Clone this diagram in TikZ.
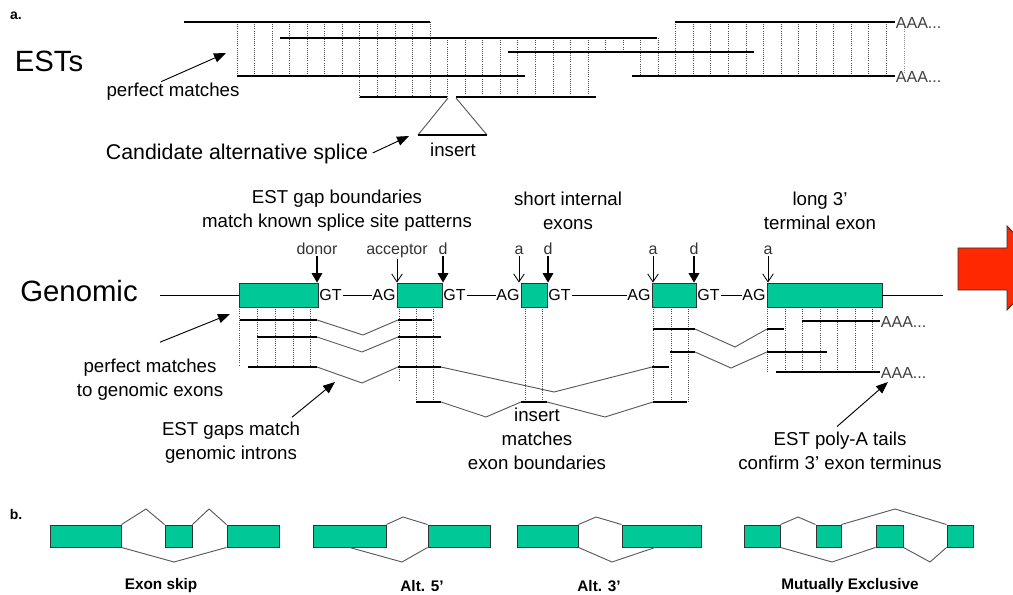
\documentclass[tikz,border=0pt]{standalone}
\usepackage{fontspec}
\setmainfont{Liberation Sans}
\usetikzlibrary{arrows.meta,fit,calc}
\definecolor{exonc}{RGB}{0,200,150}
\definecolor{redarr}{RGB}{255,40,0}
\begin{document}
\begin{tikzpicture}[x=0.75pt,y=-0.75pt,
  est/.style={line width=2pt},
  vdot/.style={densely dotted,line width=0.6pt,black!70},
  intron/.style={line width=0.7pt,black!65},
  callout/.style={line width=0.7pt,-{Triangle[length=9pt,width=7pt]}},
  dnfill/.style={line width=0.8pt,-{Triangle[length=7pt,width=8pt]}},
  dnopen/.style={line width=0.6pt,-{Straight Barb[length=6pt,width=8pt]}},
  exon/.style={draw=black!80,fill=exonc,line width=0.7pt,inner sep=0pt},
  big/.style={font=\fontsize{22}{26}\selectfont,inner sep=0pt},
  cand/.style={font=\fontsize{16}{19}\selectfont,inner sep=1pt},
  txt/.style={font=\fontsize{14}{18}\selectfont,inner sep=1pt,align=center},
  sm/.style={font=\fontsize{12}{14}\selectfont,inner sep=0.5pt},
  lab/.style={font=\bfseries\fontsize{11.5}{14}\selectfont},
  tag/.style={font=\bfseries\fontsize{10.5}{12}\selectfont},
  splice/.style={line width=0.7pt,black!65},
]
\useasboundingbox (0,0) rectangle (1013,595);

% ================= panel a: ESTs =================
\node[tag] (ta) at (16,16) {a.};
\node[big] (ests) at (49,61) {ESTs};

% dotted alignment verticals
\foreach \k in {0,...,6}   {\draw[vdot] ({237+17.55*\k},22) -- ({237+17.55*\k},76);}
\foreach \k in {7,...,11}  {\draw[vdot] ({237+17.55*\k},22) -- ({237+17.55*\k},97);}
\foreach \k in {12,...,20} {\draw[vdot] ({237+17.55*\k},38) -- ({237+17.55*\k},97);}
\foreach \k in {21,22}     {\draw[vdot] ({237+17.55*\k},38) -- ({237+17.55*\k},52);}
\foreach \k in {23,24}     {\draw[vdot] ({237+17.55*\k},38) -- ({237+17.55*\k},76);}
\foreach \k in {25,...,37} {\draw[vdot] ({237+17.55*\k},22) -- ({237+17.55*\k},76);}
\draw[vdot,black!45] (904,25) -- (904,73);

% EST reads
\draw[est] (184,22) -- (430,22);
\draw[est] (280,38) -- (657,38);
\draw[est] (237,76) -- (525,76);
\draw[est] (360,97) -- (447,97);
\draw[est] (456,97) -- (596,97);
\draw[est] (508,52) -- (754,52);
\draw[est] (675,22) -- (895,22);
\draw[est] (632,76) -- (895,76);
\node[sm,anchor=west,black!75] (aaa1) at (895,23) {AAA...};
\node[sm,anchor=west,black!75] (aaa2) at (895,77) {AAA...};

% insert triangle
\draw[intron] (448,98) -- (418,135);
\draw[intron] (456,98) -- (487,135);
\draw[est] (418,135) -- (487,135);
\node[txt] (ins1) at (453,150) {insert};

\node[txt] (pm1) at (173,92) {perfect matches};
\coordinate (pm1tip) at (226,53);
\draw[callout] ($(pm1.north)+(-12,0)$) -- (pm1tip);

\node[cand] (cand) at (237,154) {Candidate alternative splice};
\coordinate (candtip) at (409,136);
\draw[callout] ($(cand.east)+(3,-1)$) -- (candtip);

% ================= genomic =================
\node[big] (gen) at (79,291) {Genomic};
\node[txt] (h1) at (337,210.5) {EST gap boundaries\\match known splice site patterns};
\node[txt] (h2) at (568,210.5) {short internal\\exons};
\node[txt] (h3) at (820,210.5) {long 3’\\terminal exon};

% dotted verticals below exons
\foreach \x in {257,275,293,310} {\draw[vdot] (\x,307) -- (\x,367);}
\draw[vdot] (239,307) -- (239,366);
\draw[vdot] (399,307) -- (399,380);
\foreach \x in {416,433,525,542,653,671,688} {\draw[vdot] (\x,307) -- (\x,402);}
\foreach \x in {767,785,802,820,837,855,872} {\draw[vdot] (\x,307) -- (\x,372);}

\node[exon,fit={(239,283) (318,307)}] (e1) {};
\node[exon,fit={(397,283) (442,307)}] (e2) {};
\node[exon,fit={(521,283) (547,307)}] (e3) {};
\node[exon,fit={(652,283) (696,307)}] (e4) {};
\node[exon,fit={(767,283) (882,307)}] (e5) {};

\coordinate (gl) at (160,295);
\coordinate (gr) at (943,295);
\draw[line width=0.6pt] (gl) -- (e1.west);
\draw[line width=0.6pt] (e5.east) -- (gr);

\node[sm,anchor=west] (gt1) at (e1.east) {GT};
\node[sm,anchor=east] (ag1) at (e2.west) {AG};
\node[sm,anchor=west] (gt2) at (e2.east) {GT};
\node[sm,anchor=east] (ag2) at (e3.west) {AG};
\node[sm,anchor=west] (gt3) at (e3.east) {GT};
\node[sm,anchor=east] (ag3) at (e4.west) {AG};
\node[sm,anchor=west] (gt4) at (e4.east) {GT};
\node[sm,anchor=east] (ag4) at (e5.west) {AG};
\draw[line width=0.6pt] (gt1.east) -- (ag1.west);
\draw[line width=0.6pt] (gt2.east) -- (ag2.west);
\draw[line width=0.6pt] (gt3.east) -- (ag3.west);
\draw[line width=0.6pt] (gt4.east) -- (ag4.west);

% splice-site labels and arrows
\node[sm,anchor=base,black!80] (ld1) at (317,255) {donor};
\node[sm,anchor=base,black!80] (la1) at (397,255) {acceptor};
\node[sm,anchor=base,black!80] (ld2) at (443,255) {d};
\node[sm,anchor=base,black!80] (la2) at (519,255) {a};
\node[sm,anchor=base,black!80] (ld3) at (548,255) {d};
\node[sm,anchor=base,black!80] (la3) at (653,255) {a};
\node[sm,anchor=base,black!80] (ld4) at (694,255) {d};
\node[sm,anchor=base,black!80] (la4) at (768,255) {a};
\draw[dnfill] (ld1.south) -- (ld1.south |- e1.north);
\draw[dnfill] (ld2.south) -- (ld2.south |- e2.north);
\draw[dnfill] (ld3.south) -- (ld3.south |- e3.north);
\draw[dnfill] (ld4.south) -- (ld4.south |- e4.north);
\draw[dnopen] (la1.south) -- (la1.south |- e2.north);
\draw[dnopen] (la2.south) -- (la2.south |- e3.north);
\draw[dnopen] (la3.south) -- (la3.south |- e4.north);
\draw[dnopen] (la4.south) -- (la4.south |- e5.north);

% aligned ESTs with gaps (introns)
% row A
\draw[est] (240,320) -- (317,320);
\draw[intron] (317,320) -- (363,335) -- (398,320);
\draw[est] (398,320) -- (432,320);
% row B
\draw[est] (257,337) -- (317,337);
\draw[intron] (317,337) -- (362,352) -- (398,337);
\draw[est] (398,337) -- (441,337);
% row C
\draw[est] (248,367) -- (317,367);
\draw[intron] (317,367) -- (362,383) -- (398,367);
\draw[est] (398,367) -- (441,367);
\draw[intron] (441,367) -- (554,392) -- (652,367);
\draw[est] (652,367) -- (669,367);
% row D
\draw[est] (416,402) -- (441,402);
\draw[intron] (441,402) -- (486,417) -- (521,402);
\draw[est] (521,402) -- (547,402);
\draw[intron] (547,402) -- (605,417) -- (653,402);
\draw[est] (653,402) -- (687,402);
% row E
\draw[est] (653,329) -- (695,329);
\draw[intron] (695,329) -- (735,347) -- (767,329);
\draw[est] (767,329) -- (784,329);
% row F
\draw[est] (670,352) -- (695,352);
\draw[intron] (695,352) -- (731,368) -- (767,352);
\draw[est] (767,352) -- (827,352);
% rows G, H with poly-A tails
\draw[est] (802,321) -- (880,321);
\draw[est] (776,372) -- (880,372);
\node[sm,anchor=west,black!75] (aaa3) at (880,322) {AAA...};
\node[sm,anchor=west,black!75] (aaa4) at (880,373) {AAA...};

% annotations
\node[txt] (pm2) at (150,379.5) {perfect matches\\to genomic exons};
\coordinate (pm2tip) at (230,314);
\draw[callout] ($(pm2.north)+(10,-15)$) -- (pm2tip);

\node[txt] (gaps) at (231,442.5) {EST gaps match\\genomic introns};
\coordinate (gapstip) at (335,382);
\draw[callout] ($(gaps.north)+(61,-3)$) -- (gapstip);

\node[txt] (ins2) at (537,438.5) {insert\\matches\\exon boundaries};

\node[txt] (poly) at (840,451) {EST poly-A tails\\confirm 3’ exon terminus};
\coordinate (polytip) at (888,382);
\draw[callout] ($(poly.north)+(-3,-4)$) -- (polytip);

% big red arrow (cut by the right edge)
\begin{scope}
\clip (0,0) rectangle (1013,595);
\draw[fill=redarr,draw=black!80,line width=0.7pt]
  (958,248) -- (1007,248) -- (1007,226) -- (1047,268) -- (1007,310) -- (1007,290) -- (958,290) -- cycle;
\end{scope}

% ================= panel b =================
\node[tag] (tb) at (16,514) {b.};

% exon skip
\node[exon,fit={(50,525) (121,547)}] (s1) {};
\node[exon,fit={(165,525) (192,547)}] (s2) {};
\node[exon,fit={(227,525) (279,547)}] (s3) {};
\draw[splice] (s1.north east) -- (146,509) -- (s2.north west);
\draw[splice] (s2.north east) -- (209,509) -- (s3.north west);
\draw[splice] (s1.south east) -- (174,562) -- (s3.south west);
\node[lab] (lskip) at (161,586) {Exon skip};

% alt 5'
\node[exon,fit={(313,525) (386,547)}] (f1) {};
\node[exon,fit={(428,525) (490,547)}] (f2) {};
\draw[splice] (f1.north east) -- (403,517) -- (f2.north west);
\draw[splice] ($(f1.south west)!0.5!(f1.south east)$) -- (402,562) -- (f2.south west);
\node[lab] (lfive) at (422,586) {Alt. 5’};

% alt 3'
\node[exon,fit={(517,525) (578,547)}] (t1) {};
\node[exon,fit={(622,525) (701,547)}] (t2) {};
\draw[splice] (t1.north east) -- (596,517) -- (t2.north west);
\draw[splice] (t1.south east) -- (612,562) -- ($(t2.south west)!0.42!(t2.south east)$);
\node[lab] (lthree) at (599,586) {Alt. 3’};

% mutually exclusive
\node[exon,fit={(744,525) (780,547)}] (m1) {};
\node[exon,fit={(816,525) (841,547)}] (m2) {};
\node[exon,fit={(876,525) (903,547)}] (m3) {};
\node[exon,fit={(947,525) (973,547)}] (m4) {};
\draw[splice] (m1.north east) -- (798,517) -- (m2.north west);
\draw[splice] (m2.north east) -- (895,509) -- (m4.north west);
\draw[splice] (m1.south east) -- (832,562) -- (m3.south west);
\draw[splice] (m3.south east) -- (930,562) -- (m4.south west);
\node[lab] (lmut) at (850,586) {Mutually Exclusive};
\end{tikzpicture}
\end{document}
